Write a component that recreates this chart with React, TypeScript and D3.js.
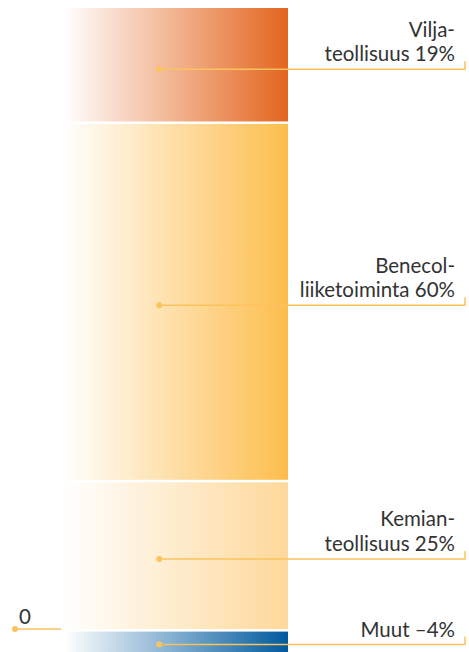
import React, { useEffect, useRef } from "react";
import * as d3 from "d3";

// segments from top to bottom, share of result in %
const categories = ["Vilja-teollisuus", "Benecol-liiketoiminta", "Kemian-teollisuus", "Muut"];
const values = [19, 60, 25, -4];
const labelLines = [
  ["Vilja-", "teollisuus 19%"],
  ["Benecol-", "liiketoiminta 60%"],
  ["Kemian-", "teollisuus 25%"],
  ["Muut \u20134%"],
];
const colors = ["#e4651f", "#fdbd4d", "#fdd89a", "#005a9e"];
const zeroLabel = "0";

const App = () => {
  const ref = useRef<SVGSVGElement>(null);
  const width = 469;
  const height = 652;

  useEffect(() => {
    const svg = d3.select(ref.current);
    svg.selectAll("*").remove();

    const font = "Lato, 'Open Sans', sans-serif";
    const lineColor = "#fcc25c";
    const textColor = "#333";

    // stack positive values downward from the top, negatives below zero
    const posTotal = d3.sum(values.filter((v) => v > 0));
    const negTotal = d3.sum(values.filter((v) => v < 0));
    const y = d3.scaleLinear().domain([negTotal, posTotal]).range([653, 8]);
    const x = d3.scaleLinear().domain([0, 1]).range([64, 288]);

    let top = posTotal;
    const segs = values.map((v, i) => {
      let hi, lo;
      if (v >= 0) {
        hi = top;
        lo = top - v;
        top = lo;
      } else {
        hi = 0;
        lo = v;
      }
      return { i, v, hi, lo, name: categories[i] };
    });

    const defs = svg.append("defs");
    colors.forEach((c, i) => {
      const g = defs
        .append("linearGradient")
        .attr("id", `grad${i}`)
        .attr("x1", "0%")
        .attr("x2", "100%");
      g.append("stop").attr("offset", "0%").attr("stop-color", c).attr("stop-opacity", 0);
      g.append("stop").attr("offset", "100%").attr("stop-color", c).attr("stop-opacity", 1);
    });

    const gap = 2.5;
    svg
      .append("g")
      .selectAll("rect")
      .data(segs)
      .join("rect")
      .attr("x", x(0))
      .attr("width", x(1) - x(0))
      .attr("y", (d) => y(d.hi) + (d.i > 0 ? gap : 0))
      .attr("height", (d) => y(d.lo) - y(d.hi) - (d.i > 0 ? gap : 0))
      .attr("fill", (d) => `url(#grad${d.i})`);

    // leader lines + labels
    const textRight = 455;
    const tickX = 465;
    const lineH = 24.5;
    segs.forEach((d) => {
      const ly = Math.min(y((d.hi + d.lo) / 2) + 4.5, 644.5);
      const g = svg.append("g");
      g.append("path")
        .attr("d", `M${x(0.425)},${ly}H${tickX}V${ly - 8}`)
        .attr("fill", "none")
        .attr("stroke", lineColor)
        .attr("stroke-width", 1.5);
      g.append("circle")
        .attr("cx", x(0.425))
        .attr("cy", ly)
        .attr("r", 3)
        .attr("fill", lineColor);
      const lines = labelLines[d.i];
      lines.forEach((t, j) => {
        g.append("text")
          .attr("x", textRight)
          .attr("y", ly - 8 - (lines.length - 1 - j) * lineH)
          .attr("text-anchor", "end")
          .style("font-family", font)
          .style("font-size", "20.5px")
          .style("fill", textColor)
          .text(t);
      });
    });

    // zero marker
    const z = svg.append("g");
    z.append("line")
      .attr("x1", 15)
      .attr("x2", 61)
      .attr("y1", y(0))
      .attr("y2", y(0))
      .attr("stroke", lineColor)
      .attr("stroke-width", 1.5);
    z.append("circle").attr("cx", 15).attr("cy", y(0)).attr("r", 3).attr("fill", lineColor);
    z.append("text")
      .attr("x", 19)
      .attr("y", y(0) - 5)
      .style("font-family", font)
      .style("font-size", "20.5px")
      .style("fill", textColor)
      .text(zeroLabel);
  }, []);

  return (
    <svg
      ref={ref}
      width={width}
      height={height}
      style={{ position: "absolute", left: 0, top: 0, background: "#fff" }}
    ></svg>
  );
};

export default App;
